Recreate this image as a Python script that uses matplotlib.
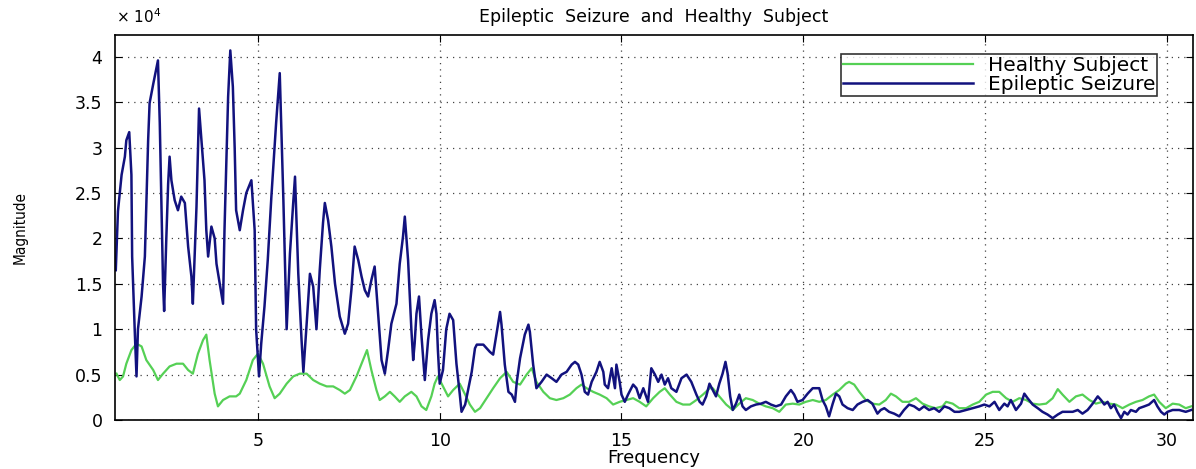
import numpy as np
import matplotlib
matplotlib.use("Agg")
import matplotlib.pyplot as plt
from matplotlib.ticker import MultipleLocator

# Magnitude values are in units of 10^4
freq_seizure = [1.09, 1.15, 1.25, 1.34, 1.38, 1.46, 1.52, 1.54, 1.61, 1.66, 1.70, 1.80, 1.89, 1.98,
                2.02, 2.12, 2.25, 2.30, 2.34, 2.39, 2.42, 2.48, 2.53, 2.57, 2.62, 2.71, 2.80, 2.89,
                2.99, 3.08, 3.17, 3.21, 3.31, 3.38, 3.44, 3.53, 3.58, 3.63, 3.72, 3.81, 3.86, 3.95,
                4.04, 4.08, 4.18, 4.24, 4.31, 4.36, 4.40, 4.50, 4.59, 4.68, 4.82, 4.91, 4.95, 5.03,
                5.09, 5.18, 5.27, 5.37, 5.50, 5.60, 5.70, 5.79, 5.88, 5.97, 6.02, 6.11, 6.20, 6.25,
                6.34, 6.43, 6.52, 6.61, 6.70, 6.79, 6.84, 6.93, 7.02, 7.12, 7.25, 7.39, 7.48, 7.57,
                7.66, 7.76, 7.85, 7.94, 8.03, 8.12, 8.21, 8.31, 8.40, 8.49, 8.58, 8.67, 8.81, 8.90,
                8.99, 9.04, 9.08, 9.13, 9.22, 9.27, 9.31, 9.36, 9.43, 9.50, 9.59, 9.68, 9.77, 9.86,
                9.91, 9.95, 10.00, 10.09, 10.18, 10.27, 10.37, 10.46, 10.55, 10.60, 10.70, 10.79,
                10.88, 10.97, 11.02, 11.20, 11.38, 11.47, 11.57, 11.66, 11.70, 11.79, 11.89, 11.98,
                12.07, 12.12, 12.21, 12.34, 12.44, 12.48, 12.57, 12.66, 12.80, 12.94, 13.08, 13.21,
                13.35, 13.49, 13.63, 13.72, 13.81, 13.90, 13.99, 14.08, 14.18, 14.31, 14.40, 14.50,
                14.54, 14.63, 14.73, 14.82, 14.86, 14.95, 15.00, 15.09, 15.18, 15.32, 15.41, 15.50,
                15.60, 15.73, 15.82, 15.92, 16.01, 16.10, 16.19, 16.28, 16.37, 16.51, 16.65, 16.79,
                16.92, 17.06, 17.15, 17.23, 17.33, 17.42, 17.51, 17.60, 17.69, 17.78, 17.86, 17.92,
                17.99, 18.06, 18.15, 18.24, 18.33, 18.42, 18.56, 18.70, 18.84, 18.97, 19.11, 19.25,
                19.39, 19.52, 19.66, 19.75, 19.84, 19.98, 20.12, 20.26, 20.44, 20.53, 20.62, 20.71,
                20.81, 20.90, 20.99, 21.08, 21.22, 21.36, 21.49, 21.63, 21.77, 21.90, 22.04, 22.13,
                22.23, 22.36, 22.50, 22.64, 22.77, 22.91, 23.05, 23.19, 23.32, 23.46, 23.60, 23.74,
                23.88, 24.02, 24.16, 24.29, 24.48, 24.66, 24.84, 24.98, 25.12, 25.26, 25.39, 25.53,
                25.62, 25.71, 25.85, 25.99, 26.08, 26.17, 26.31, 26.45, 26.58, 26.72, 26.86, 27.00,
                27.13, 27.27, 27.41, 27.55, 27.68, 27.82, 27.96, 28.10, 28.19, 28.28, 28.37, 28.46,
                28.55, 28.64, 28.74, 28.83, 28.92, 29.01, 29.15, 29.24, 29.38, 29.51, 29.65, 29.74,
                29.84, 29.93, 30.02, 30.16, 30.34, 30.52, 30.67]
mag_seizure = [1.65, 2.30, 2.70, 2.90, 3.08, 3.17, 2.70, 1.80, 1.00, 0.48, 1.00, 1.36, 1.80, 3.08,
               3.49, 3.70, 3.96, 3.27, 2.46, 1.50, 1.20, 2.00, 2.60, 2.90, 2.64, 2.42, 2.31, 2.46,
               2.39, 1.91, 1.58, 1.28, 2.35, 3.43, 3.12, 2.64, 2.09, 1.80, 2.13, 2.00, 1.72, 1.50,
               1.28, 2.09, 3.56, 4.07, 3.67, 3.00, 2.31, 2.09, 2.31, 2.50, 2.64, 2.09, 1.00, 0.48,
               0.84, 1.25, 1.76, 2.46, 3.27, 3.82, 2.42, 1.00, 1.83, 2.39, 2.68, 1.61, 0.88, 0.53,
               1.06, 1.61, 1.47, 1.00, 1.65, 2.17, 2.39, 2.20, 1.91, 1.50, 1.14, 0.95, 1.06, 1.43,
               1.91, 1.76, 1.58, 1.43, 1.36, 1.54, 1.69, 1.14, 0.66, 0.51, 0.77, 1.06, 1.28, 1.72,
               2.02, 2.24, 2.02, 1.76, 1.00, 0.66, 0.84, 1.17, 1.36, 0.92, 0.44, 0.88, 1.17, 1.32,
               1.17, 0.77, 0.40, 0.55, 1.00, 1.17, 1.10, 0.62, 0.29, 0.09, 0.17, 0.35,
               0.53, 0.79, 0.83, 0.83, 0.75, 0.72, 0.97, 1.19, 1.05, 0.61, 0.31, 0.28,
               0.20, 0.42, 0.68, 0.94, 1.05, 0.97, 0.61, 0.35, 0.42, 0.50, 0.46, 0.42,
               0.50, 0.53, 0.61, 0.64, 0.61, 0.50, 0.31, 0.28, 0.42, 0.53, 0.64, 0.53,
               0.39, 0.35, 0.57, 0.35, 0.61, 0.42, 0.28, 0.20, 0.28, 0.39, 0.35, 0.24,
               0.35, 0.20, 0.57, 0.50, 0.42, 0.50, 0.39, 0.46, 0.35, 0.31, 0.46, 0.50,
               0.42, 0.28, 0.20, 0.17, 0.26, 0.40, 0.33, 0.26, 0.40, 0.51, 0.64, 0.51,
               0.26, 0.11, 0.18, 0.28, 0.15, 0.11, 0.15, 0.17, 0.18, 0.20, 0.17, 0.15,
               0.17, 0.26, 0.33, 0.28, 0.20, 0.22, 0.29, 0.35, 0.35, 0.22, 0.15, 0.04,
               0.18, 0.29, 0.26, 0.17, 0.13, 0.11, 0.17, 0.20, 0.22, 0.18, 0.07, 0.11,
               0.13, 0.09, 0.07, 0.04, 0.11, 0.17, 0.15, 0.11, 0.15, 0.11, 0.13, 0.09,
               0.15, 0.13, 0.09, 0.09, 0.11, 0.13, 0.15, 0.17, 0.15, 0.20, 0.11, 0.18,
               0.15, 0.22, 0.11, 0.18, 0.29, 0.24, 0.17, 0.13, 0.09, 0.06, 0.02, 0.06,
               0.09, 0.09, 0.09, 0.11, 0.07, 0.11, 0.18, 0.26, 0.22, 0.17, 0.20, 0.13,
               0.17, 0.09, 0.02, 0.09, 0.06, 0.11, 0.09, 0.13, 0.15, 0.17, 0.22, 0.15,
               0.09, 0.06, 0.09, 0.11, 0.11, 0.09, 0.11]

freq_healthy = [1.11, 1.20, 1.29, 1.38, 1.52, 1.66, 1.80, 1.93, 2.12, 2.25, 2.39, 2.57, 2.76, 2.94,
                3.08, 3.21, 3.35, 3.49, 3.58, 3.67, 3.81, 3.90, 4.04, 4.22, 4.40, 4.50, 4.68, 4.86,
                5.00, 5.14, 5.32, 5.46, 5.60, 5.79, 5.97, 6.15, 6.34, 6.52, 6.70, 6.89, 7.07, 7.25,
                7.39, 7.53, 7.71, 7.85, 8.00, 8.12, 8.26, 8.35, 8.49, 8.63, 8.76, 8.90, 9.04, 9.22,
                9.36, 9.50, 9.63, 9.77, 9.86, 9.95, 10.09, 10.23, 10.37, 10.55, 10.70, 10.83, 10.97,
                11.11, 11.29, 11.47, 11.66, 11.84, 12.02, 12.21, 12.39, 12.53, 12.66, 12.85, 13.03,
                13.21, 13.40, 13.58, 13.76, 13.90, 14.04, 14.22, 14.40, 14.59, 14.77, 14.95, 15.14,
                15.32, 15.50, 15.68, 15.87, 16.05, 16.19, 16.33, 16.51, 16.69, 16.88, 17.06, 17.24,
                17.43, 17.51, 17.69, 17.88, 18.06, 18.24, 18.42, 18.61, 18.79, 18.97, 19.16, 19.34,
                19.52, 19.71, 19.89, 20.07, 20.26, 20.44, 20.62, 20.81, 20.99, 21.17, 21.26, 21.40,
                21.54, 21.72, 21.90, 22.09, 22.27, 22.41, 22.55, 22.73, 22.91, 23.10, 23.28, 23.46,
                23.64, 23.83, 23.93, 24.11, 24.29, 24.48, 24.66, 24.84, 25.03, 25.21, 25.39, 25.58,
                25.76, 25.94, 26.13, 26.31, 26.49, 26.68, 26.86, 27.00, 27.13, 27.32, 27.50, 27.68,
                27.87, 28.05, 28.23, 28.42, 28.60, 28.78, 28.97, 29.15, 29.33, 29.51, 29.65, 29.79,
                29.97, 30.16, 30.34, 30.52, 30.67]
mag_healthy = [0.51, 0.44, 0.48, 0.62, 0.77, 0.84, 0.81, 0.66, 0.55, 0.44, 0.51, 0.59, 0.62, 0.62,
               0.55, 0.51, 0.73, 0.88, 0.94, 0.66, 0.29, 0.15, 0.22, 0.26, 0.26, 0.29, 0.44, 0.66,
               0.73, 0.62, 0.37, 0.24, 0.29, 0.40, 0.48, 0.51, 0.51, 0.44, 0.40, 0.37, 0.37, 0.33,
               0.29, 0.33, 0.48, 0.62, 0.77, 0.55, 0.33, 0.22, 0.26, 0.31, 0.26, 0.20, 0.26, 0.31,
               0.26, 0.15, 0.11, 0.26, 0.40, 0.48, 0.37, 0.26, 0.33, 0.40, 0.28, 0.17, 0.09,
               0.13, 0.24, 0.35, 0.46, 0.53, 0.42, 0.39, 0.50, 0.57, 0.42, 0.31, 0.24,
               0.22, 0.24, 0.28, 0.35, 0.39, 0.35, 0.31, 0.28, 0.24, 0.17, 0.20, 0.22,
               0.24, 0.20, 0.15, 0.24, 0.31, 0.35, 0.28, 0.20, 0.17, 0.17, 0.22, 0.28,
               0.35, 0.35, 0.26, 0.17, 0.11, 0.18, 0.24, 0.22, 0.18, 0.15, 0.13, 0.09,
               0.17, 0.18, 0.17, 0.20, 0.22, 0.20, 0.22, 0.28, 0.33, 0.40, 0.42, 0.39,
               0.31, 0.22, 0.18, 0.17, 0.22, 0.29, 0.26, 0.20, 0.20, 0.24, 0.18, 0.15,
               0.13, 0.15, 0.20, 0.18, 0.13, 0.13, 0.17, 0.20, 0.28, 0.31, 0.31, 0.24,
               0.20, 0.24, 0.22, 0.18, 0.17, 0.18, 0.24, 0.34, 0.28, 0.20, 0.26, 0.28,
               0.22, 0.18, 0.20, 0.18, 0.17, 0.13, 0.17, 0.20, 0.22, 0.26, 0.28, 0.20,
               0.13, 0.18, 0.17, 0.13, 0.15]

ytick_labels = ["0", "0.5", "1", "1.5", "2", "2.5", "3", "3.5", "4"]

blue = "#12127e"
green = "#55d055"

fig = plt.figure(figsize=(11.96, 4.69), dpi=100)
ax = fig.add_axes([0.0962, 0.1045, 0.9013, 0.8209])

ax.plot(freq_healthy, mag_healthy, color=green, lw=1.6, label="Healthy Subject")
ax.plot(freq_seizure, mag_seizure, color=blue, lw=1.8, label="Epileptic Seizure")

ax.set_xlim(1.07, 30.72)
ax.set_ylim(0, 4.24)
ax.xaxis.set_major_locator(MultipleLocator(5))
ax.set_yticks(np.arange(0, 4.01, 0.5))
ax.set_yticklabels(ytick_labels)
ax.tick_params(direction="in", top=True, right=True, length=5, labelsize=12.5, pad=9)
ax.grid(True, color="#444444", linestyle=(0, (1, 4)), linewidth=0.9)
for s in ax.spines.values():
    s.set_linewidth(1.2)

ax.set_title("Epileptic  Seizure  and  Healthy  Subject", fontsize=12.5, pad=9)
ax.set_xlabel("Frequency", fontsize=13, labelpad=-1)
ax.set_ylabel("Magnitude", fontsize=11, fontstretch="condensed", labelpad=34)
fig.text(0.097, 0.952, r"$\times\ 10^4$", fontsize=11)

leg = ax.legend(loc="upper right", bbox_to_anchor=(0.976, 0.977), fontsize=14.5, frameon=True,
                fancybox=False, edgecolor="black", handlelength=6.5, borderpad=0.1,
                labelspacing=0.0, handletextpad=0.7)
leg.get_frame().set_linewidth(1.2)

fig.savefig("out.png", dpi=100)
